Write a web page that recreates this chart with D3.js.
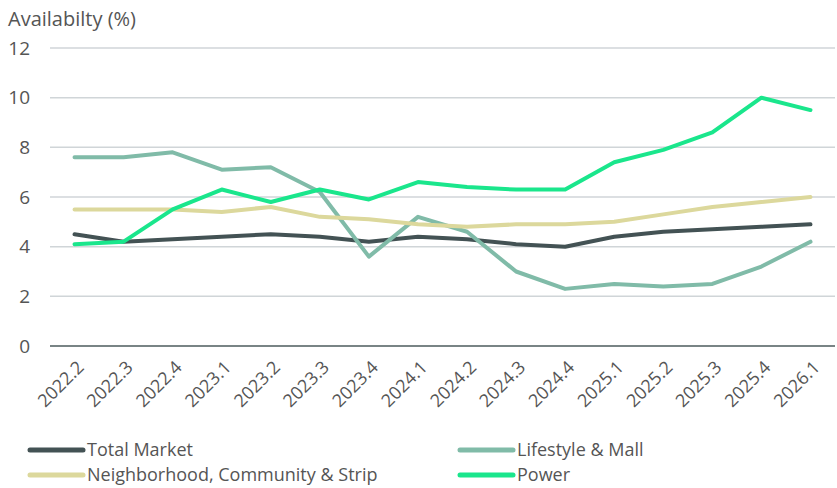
<!DOCTYPE html>
<html>
<head>
<meta charset="utf-8">
<script src="https://cdn.jsdelivr.net/npm/d3@7"></script>
<style>
  body { margin: 0; background: #fff; }
  text { font-family: "Open Sans", sans-serif; fill: #555; }
</style>
</head>
<body>
<script>
const quarters = ["2022.2","2022.3","2022.4","2023.1","2023.2","2023.3","2023.4","2024.1",
  "2024.2","2024.3","2024.4","2025.1","2025.2","2025.3","2025.4","2026.1"];
const totalMarket = [4.5,4.2,4.3,4.4,4.5,4.4,4.2,4.4,4.3,4.1,4.0,4.4,4.6,4.7,4.8,4.9];
const lifestyleMall = [7.6,7.6,7.8,7.1,7.2,6.2,3.6,5.2,4.6,3.0,2.3,2.5,2.4,2.5,3.2,4.2];
const neighborhood = [5.5,5.5,5.5,5.4,5.6,5.2,5.1,4.9,4.8,4.9,4.9,5.0,5.3,5.6,5.8,6.0];
const power = [4.1,4.2,5.5,6.3,5.8,6.3,5.9,6.6,6.4,6.3,6.3,7.4,7.9,8.6,10.0,9.5];
const yTicks = [0,2,4,6,8,10,12];

const series = [
  { name: "Total Market", values: totalMarket, color: "#435254" },
  { name: "Lifestyle & Mall", values: lifestyleMall, color: "#80bba8" },
  { name: "Neighborhood, Community & Strip", values: neighborhood, color: "#dcd89c" },
  { name: "Power", values: power, color: "#1ae68c" }
];

const width = 837, height = 488;
const margin = { left: 50, right: 2, top: 48, bottom: 142 };

const svg = d3.select("body").append("svg")
  .attr("width", width)
  .attr("height", height);

const x = d3.scalePoint()
  .domain(quarters)
  .range([margin.left, width - margin.right])
  .padding(0.5);

const y = d3.scaleLinear()
  .domain([0, 12])
  .range([height - margin.bottom, margin.top]);

// gridlines
svg.append("g").selectAll("line")
  .data(yTicks.filter(d => d > 0))
  .enter().append("line")
    .attr("x1", margin.left).attr("x2", width - margin.right)
    .attr("y1", d => y(d)).attr("y2", d => y(d))
    .attr("stroke", "#d0d5d8").attr("stroke-width", 1.5);

// baseline
svg.append("line")
  .attr("x1", margin.left).attr("x2", width - margin.right)
  .attr("y1", y(0)).attr("y2", y(0))
  .attr("stroke", "#4d5b5c").attr("stroke-width", 1.5);

// y labels
svg.append("g").selectAll("text")
  .data(yTicks)
  .enter().append("text")
    .attr("x", 30)
    .attr("y", d => y(d))
    .attr("dy", "0.35em")
    .attr("text-anchor", "end")
    .style("font-size", "19px")
    .text(d => d);

svg.append("text")
  .attr("x", 8).attr("y", 26)
  .style("font-size", "20px")
  .text("Availabilty (%)");

// x labels
svg.append("g").selectAll("text")
  .data(quarters)
  .enter().append("text")
    .attr("transform", d => `translate(${x(d) + 6},${y(0) + 18}) rotate(-45)`)
    .attr("text-anchor", "end")
    .attr("dy", "0.35em")
    .style("font-size", "18px")
    .text(d => d);

// lines
const line = d3.line()
  .x((d, i) => x(quarters[i]))
  .y(d => y(d));

svg.append("g").selectAll("path")
  .data(series)
  .enter().append("path")
    .attr("d", d => line(d.values))
    .attr("fill", "none")
    .attr("stroke", d => d.color)
    .attr("stroke-width", 4)
    .attr("stroke-linejoin", "round")
    .attr("stroke-linecap", "round");

// legend
const legend = svg.append("g").selectAll("g")
  .data(series)
  .enter().append("g")
    .attr("transform", (d, i) => `translate(${i % 2 === 0 ? 30 : 460},${i < 2 ? 450 : 475})`);

legend.append("line")
  .attr("x1", 0).attr("x2", 53)
  .attr("stroke", d => d.color)
  .attr("stroke-width", 5)
  .attr("stroke-linecap", "round");

legend.append("text")
  .attr("x", 57)
  .attr("dy", "0.35em")
  .style("font-size", "18px")
  .text(d => d.name);
</script>
</body>
</html>
